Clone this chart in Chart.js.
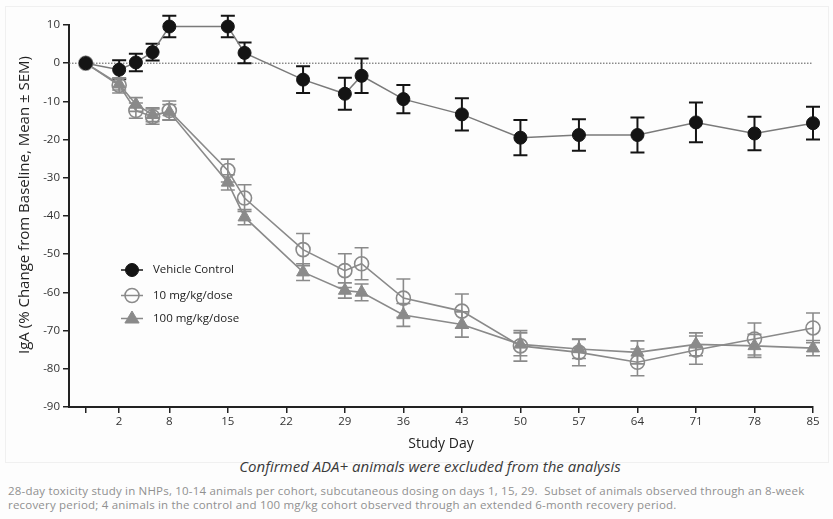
<!DOCTYPE html>
<html>
<head>
<meta charset="utf-8">
<script src="https://cdn.jsdelivr.net/npm/chart.js@4"></script>
<style>
  body { margin: 0; background: #fff; }
  #wrap { position: relative; width: 833px; height: 519px; background: #fdfdfd; }
  #box { position: absolute; left: 5px; top: 6px; width: 822px; height: 455px; border: 1px solid #f0f0f0; }
  #chartWrap { position: absolute; left: 0; top: 0; width: 833px; height: 455px; }
  .note { position: absolute; font-family: "Open Sans", sans-serif; white-space: nowrap; }
  #sub { top: 456px; left: 0; width: 860px; text-align: center; font-size: 15px; font-style: italic; color: #3a3a3a; }
  .foot { left: 8px; font-size: 11.5px; letter-spacing: 0.2px; color: #909090; }
</style>
</head>
<body>
<div id="wrap">
  <div id="box"></div>
  <div id="chartWrap"><canvas id="igaChart" width="833" height="455"></canvas></div>
  <div id="sub" class="note">Confirmed ADA+ animals were excluded from the analysis</div>
  <div class="note foot" style="top:483px">28-day toxicity study in NHPs, 10-14 animals per cohort, subcutaneous dosing on days 1, 15, 29.&nbsp; Subset of animals observed through an 8-week</div>
  <div class="note foot" style="top:497px">recovery period; 4 animals in the control and 100 mg/kg cohort observed through an extended 6-month recovery period.</div>
</div>
<script>
// study days (baseline plotted at -2)
const days = [-2, 2, 4, 6, 8, 15, 17, 24, 29, 31, 36, 43, 50, 57, 64, 71, 78, 85];
const tickDays = [-2, 2, 8, 15, 22, 29, 36, 43, 50, 57, 64, 71, 78, 85];
const tickLabels = ['', '2', '8', '15', '22', '29', '36', '43', '50', '57', '64', '71', '78', '85'];

const vehicleMean = [0, -1.7, 0.2, 2.9, 9.6, 9.6, 2.7, -4.3, -8.0, -3.3, -9.4, -13.4, -19.5, -18.8, -18.8, -15.5, -18.4, -15.7];
const vehicleSem = [0, 2.5, 2.3, 2.2, 2.8, 2.8, 2.7, 3.5, 4.2, 4.5, 3.7, 4.2, 4.6, 4.1, 4.6, 5.2, 4.4, 4.3];

const dose10Mean = [0, -5.8, -12.4, -14.0, -12.4, -28.1, -35.3, -48.8, -54.3, -52.5, -61.5, -64.9, -74.0, -75.7, -78.3, -75.1, -72.2, -69.3];
const dose10Sem = [0, 2.0, 2.0, 2.0, 2.5, 3.0, 3.5, 4.2, 4.4, 4.2, 5.0, 4.5, 4.0, 3.5, 3.5, 3.7, 4.2, 3.9];

const dose100Mean = [0, -5.5, -10.8, -13.5, -12.8, -31.2, -40.3, -54.7, -59.5, -60.0, -65.9, -68.4, -73.6, -74.8, -75.7, -73.6, -74.0, -74.6];
const dose100Sem = [0, 1.5, 1.8, 1.8, 2.0, 2.0, 2.0, 2.2, 2.0, 2.2, 3.0, 3.3, 3.0, 2.5, 3.0, 3.0, 3.0, 2.0];

const seriesNames = ['Vehicle Control', '10 mg/kg/dose', '100 mg/kg/dose'];
const yTitle = 'IgA (% Change from Baseline, Mean ± SEM)';

const gray = '#8a8a8a';
const black = '#141414';

function pts(mean) {
    return days.map((d, i) => ({ x: d, y: mean[i] }));
}

const errorBars = {
    id: 'errorBars',
    beforeDatasetsDraw(chart) {
        const ctx = chart.ctx;
        const yScale = chart.scales.y;
        chart.data.datasets.forEach((ds, di) => {
            const meta = chart.getDatasetMeta(di);
            ctx.save();
            ctx.strokeStyle = ds.errColor;
            ctx.lineWidth = ds.errWidth;
            meta.data.forEach((pt, i) => {
                const s = ds.sem[i];
                if (!s) return;
                const m = ds.data[i].y;
                const yt = yScale.getPixelForValue(m + s);
                const yb = yScale.getPixelForValue(m - s);
                ctx.beginPath();
                ctx.moveTo(pt.x, yt); ctx.lineTo(pt.x, yb);
                ctx.moveTo(pt.x - 7, yt); ctx.lineTo(pt.x + 7, yt);
                ctx.moveTo(pt.x - 7, yb); ctx.lineTo(pt.x + 7, yb);
                ctx.stroke();
            });
            ctx.restore();
        });
    }
};

const zeroLine = {
    id: 'zeroLine',
    beforeDatasetsDraw(chart) {
        const ctx = chart.ctx;
        const y = chart.scales.y.getPixelForValue(0);
        const x = chart.scales.x;
        ctx.save();
        ctx.strokeStyle = '#555';
        ctx.lineWidth = 1;
        ctx.setLineDash([1.5, 1.5]);
        ctx.beginPath();
        ctx.moveTo(x.left, y);
        ctx.lineTo(x.getPixelForValue(85), y);
        ctx.stroke();
        ctx.restore();
    }
};

// y title drawn by hand so it sits a little above the axis centre, as in the original
const yTitlePlugin = {
    id: 'yTitlePlugin',
    afterDraw(chart) {
        const ctx = chart.ctx;
        ctx.save();
        ctx.translate(25, 205);
        ctx.rotate(-Math.PI / 2);
        ctx.fillStyle = '#222';
        ctx.font = '15px "Open Sans", sans-serif';
        ctx.textAlign = 'center';
        ctx.textBaseline = 'middle';
        ctx.fillText(yTitle, 0, 0);
        ctx.restore();
    }
};

const legendBox = {
    id: 'legendBox',
    afterDraw(chart) {
        const ctx = chart.ctx;
        const x0 = 132, ys = [270, 295.5, 318.5];
        chart.data.datasets.forEach((ds, i) => {
            const y = ys[i];
            ctx.save();
            ctx.strokeStyle = ds.pointBorderColor;
            ctx.lineWidth = 1.5;
            ctx.beginPath();
            ctx.moveTo(x0 - 11, y); ctx.lineTo(x0 + 11, y);
            ctx.stroke();
            ctx.fillStyle = ds.pointBackgroundColor;
            ctx.lineWidth = ds.pointBorderWidth;
            ctx.beginPath();
            if (ds.pointStyle === 'triangle') {
                const r = ds.pointRadius;
                ctx.moveTo(x0, y - r);
                ctx.lineTo(x0 + r * 0.95, y + r * 0.6);
                ctx.lineTo(x0 - r * 0.95, y + r * 0.6);
                ctx.closePath();
            } else {
                ctx.arc(x0, y, ds.pointRadius, 0, Math.PI * 2);
            }
            ctx.fill();
            ctx.stroke();
            ctx.fillStyle = '#222';
            ctx.font = '11.5px "Open Sans", sans-serif';
            ctx.textBaseline = 'middle';
            ctx.fillText(seriesNames[i], 153, y);
            ctx.restore();
        });
    }
};

const ctx = document.getElementById('igaChart').getContext('2d');
const igaChart = new Chart(ctx, {
    type: 'line',
    data: {
        datasets: [{
            label: seriesNames[0],
            data: pts(vehicleMean),
            sem: vehicleSem,
            errColor: black,
            errWidth: 2,
            borderColor: '#7a7a7a',
            borderWidth: 1.5,
            pointStyle: 'circle',
            pointRadius: 6.5,
            pointBackgroundColor: black,
            pointBorderColor: black,
            pointBorderWidth: 1,
            clip: false,
            order: 1
        }, {
            label: seriesNames[1],
            data: pts(dose10Mean),
            sem: dose10Sem,
            errColor: gray,
            errWidth: 1.6,
            borderColor: gray,
            borderWidth: 1.6,
            pointStyle: 'circle',
            pointRadius: 7,
            pointBackgroundColor: 'rgba(0,0,0,0)',
            pointBorderColor: gray,
            pointBorderWidth: 1.6,
            clip: false,
            order: 2
        }, {
            label: seriesNames[2],
            data: pts(dose100Mean),
            sem: dose100Sem,
            errColor: gray,
            errWidth: 1.6,
            borderColor: gray,
            borderWidth: 1.6,
            pointStyle: 'triangle',
            pointRadius: 7.5,
            pointBackgroundColor: gray,
            pointBorderColor: gray,
            pointBorderWidth: 1,
            clip: false,
            order: 3
        }]
    },
    options: {
        responsive: false,
        animation: false,
        layout: { padding: { top: 25, right: 20, left: 0, bottom: 0 } },
        plugins: { legend: { display: false }, tooltip: { enabled: false } },
        scales: {
            x: {
                type: 'linear',
                min: -4,
                max: 85,
                afterBuildTicks(scale) { scale.ticks = tickDays.map(v => ({ value: v })); },
                afterFit(scale) { scale.height = 48; },
                ticks: {
                    autoSkip: false,
                    maxRotation: 0,
                    padding: 2,
                    color: '#333',
                    font: { family: 'Open Sans', size: 11.5 },
                    callback(v) { return tickLabels[tickDays.indexOf(v)]; }
                },
                grid: { drawOnChartArea: false, drawTicks: true, tickLength: 6, color: '#222', lineWidth: 1.5 },
                border: { color: '#222', width: 2 },
                title: {
                    display: true,
                    text: 'Study Day',
                    color: '#222',
                    font: { family: 'Open Sans', size: 14 },
                    padding: { top: 0, bottom: 3 }
                }
            },
            y: {
                min: -90,
                max: 10,
                afterFit(scale) { scale.width = 69; },
                ticks: {
                    stepSize: 10,
                    padding: 3,
                    color: '#333',
                    font: { family: 'Open Sans', size: 11.5 }
                },
                grid: { drawOnChartArea: false, drawTicks: true, tickLength: 6, color: '#222', lineWidth: 1.5 },
                border: { color: '#222', width: 2 }
            }
        }
    },
    plugins: [zeroLine, errorBars, legendBox, yTitlePlugin]
});
</script>
</body>
</html>
